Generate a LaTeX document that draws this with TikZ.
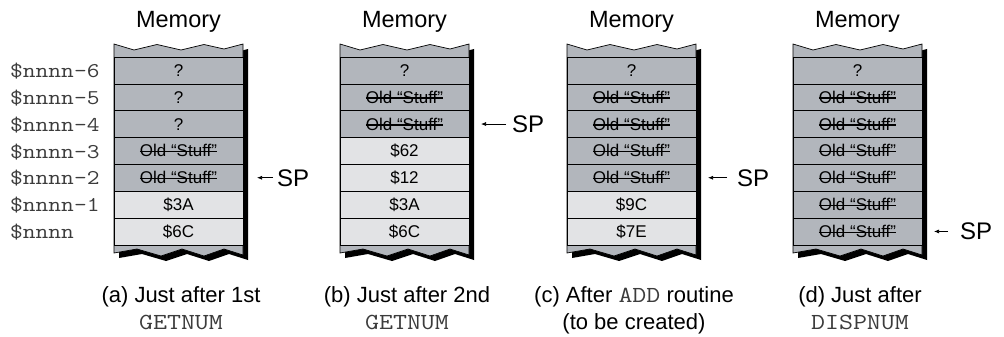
\documentclass[tikz,border=0pt]{standalone}
\usepackage{fontspec}
\setmainfont{Liberation Sans}
\setmonofont[FakeStretch=1.18]{Latin Modern Mono}
\usetikzlibrary{arrows.meta}
\definecolor{memdark}{RGB}{178,182,188}
\definecolor{memlight}{RGB}{226,227,229}
\definecolor{codegray}{RGB}{60,60,60}
\newcommand{\strk}[1]{\setbox0\hbox{#1}\rlap{\rule[0.27em]{\wd0}{0.075em}}\box0}
\newcommand{\oldstuff}{\strk{Old “Stuff”}}
% frame of one memory column, drawn in local coordinates of a scope
\newcommand{\memframe}[1]{%
  \fill[black,shift={(5,5)}] (0,44) -- (20,50) -- (43,44.5) -- (67,50) -- (90,44.5) -- (110,49) -- (129,44)
     -- (129,255) -- (110,249) -- (90,256) -- (68,249) -- (47,256) -- (23,249) -- (0,253) -- cycle;
  \filldraw[fill=memdark,draw=black,line width=0.7pt] (0,44) -- (20,50) -- (43,44.5) -- (67,50) -- (90,44.5) -- (110,49) -- (129,44)
     -- (129,255) -- (110,249) -- (90,256) -- (68,249) -- (47,256) -- (23,249) -- (0,253) -- cycle;
  \node[memtitle] (#1-title) at (64.5,28) {Memory};}
\newcommand{\cell}[4]{% name, row, fill, text
  \pgfmathsetmacro\rtop{57+26.857*(#2-1)}
  \filldraw[rowbox,fill=#3] (0,\rtop) rectangle (129,\rtop+26.857);
  \node[celltext] (#1) at (64.5,\rtop+19.4) {#4};}
\tikzset{
  celltext/.style={font=\fontsize{17}{17}\selectfont, anchor=base, inner sep=0pt},
  memtitle/.style={font=\fontsize{23.5}{23.5}\selectfont, anchor=base, inner sep=0pt},
  addr/.style={font=\ttfamily\fontsize{21}{21}\selectfont, text=codegray, anchor=base west, inner sep=0pt},
  caption/.style={font=\fontsize{22}{22}\selectfont, anchor=base, inner sep=0pt},
  codecap/.style={font=\ttfamily\fontsize{23}{23}\selectfont, text=codegray, anchor=base, inner sep=0pt},
  sptext/.style={font=\fontsize{24}{24}\selectfont, anchor=base west, inner sep=0pt},
  sparrow/.style={-{Latex[length=5pt,width=4pt]}, line width=0.7pt},
  rowbox/.style={draw=black, line width=0.6pt},
}
\begin{document}
\begin{tikzpicture}[x=1pt,y=-1pt]
\useasboundingbox (0,0) rectangle (1004,337);
% address labels
\node[addr] (l6) at (10,77.4) {\$nnnn-6};
\node[addr] (l5) at (10,104.3) {\$nnnn-5};
\node[addr] (l4) at (10,131.1) {\$nnnn-4};
\node[addr] (l3) at (10,158.0) {\$nnnn-3};
\node[addr] (l2) at (10,184.9) {\$nnnn-2};
\node[addr] (l1) at (10,211.7) {\$nnnn-1};
\node[addr] (l0) at (10,238.6) {\$nnnn};
% (a)
\begin{scope}[shift={(114,0)}]
  \memframe{a}
  \cell{a1}{1}{memdark}{?}
  \cell{a2}{2}{memdark}{?}
  \cell{a3}{3}{memdark}{?}
  \cell{a4}{4}{memdark}{\oldstuff}
  \cell{a5}{5}{memdark}{\oldstuff}
  \cell{a6}{6}{memlight}{\$3A}
  \cell{a7}{7}{memlight}{\$6C}
  \node[sptext] (spa) at (163,186) {SP};
  \coordinate (spa-tip) at (143,177);
  \draw[sparrow] ([xshift=-4pt]spa.west) -- (spa-tip |- spa.west);
  \node[caption] (capa1) at (67,302) {(a) Just after 1st};
  \node[codecap] (capa2) at (67,329) {GETNUM};
\end{scope}
% (b)
\begin{scope}[shift={(340,0)}]
  \memframe{b}
  \cell{b1}{1}{memdark}{?}
  \cell{b2}{2}{memdark}{\oldstuff}
  \cell{b3}{3}{memdark}{\oldstuff}
  \cell{b4}{4}{memlight}{\$62}
  \cell{b5}{5}{memlight}{\$12}
  \cell{b6}{6}{memlight}{\$3A}
  \cell{b7}{7}{memlight}{\$6C}
  \node[sptext] (spb) at (172,132.3) {SP};
  \coordinate (spb-tip) at (141,124);
  \draw[sparrow] ([xshift=-6pt]spb.west) -- (spb-tip |- spb.west);
  \node[caption] (capb1) at (67,302) {(b) Just after 2nd};
  \node[codecap] (capb2) at (67,329) {GETNUM};
\end{scope}
% (c)
\begin{scope}[shift={(567,0)}]
  \memframe{c}
  \cell{c1}{1}{memdark}{?}
  \cell{c2}{2}{memdark}{\oldstuff}
  \cell{c3}{3}{memdark}{\oldstuff}
  \cell{c4}{4}{memdark}{\oldstuff}
  \cell{c5}{5}{memdark}{\oldstuff}
  \cell{c6}{6}{memlight}{\$9C}
  \cell{c7}{7}{memlight}{\$7E}
  \node[sptext] (spc) at (170,186) {SP};
  \coordinate (spc-tip) at (141,177);
  \draw[sparrow] ([xshift=-10pt]spc.west) -- (spc-tip |- spc.west);
  \node[caption] (capc1) at (67,302) {(c) After {\ttfamily\fontsize{23}{23}\selectfont\color{codegray}ADD} routine};
  \node[caption] (capc2) at (67,329) {(to be created)};
\end{scope}
% (d)
\begin{scope}[shift={(793,0)}]
  \memframe{d}
  \cell{d1}{1}{memdark}{?}
  \cell{d2}{2}{memdark}{\oldstuff}
  \cell{d3}{3}{memdark}{\oldstuff}
  \cell{d4}{4}{memdark}{\oldstuff}
  \cell{d5}{5}{memdark}{\oldstuff}
  \cell{d6}{6}{memdark}{\oldstuff}
  \cell{d7}{7}{memdark}{\oldstuff}
  \node[sptext] (spd) at (167,239.7) {SP};
  \coordinate (spd-tip) at (141,231);
  \draw[sparrow] ([xshift=-12pt]spd.west) -- (spd-tip |- spd.west);
  \node[caption] (capd1) at (67,302) {(d) Just after};
  \node[codecap] (capd2) at (67,329) {DISPNUM};
\end{scope}
\end{tikzpicture}
\end{document}
